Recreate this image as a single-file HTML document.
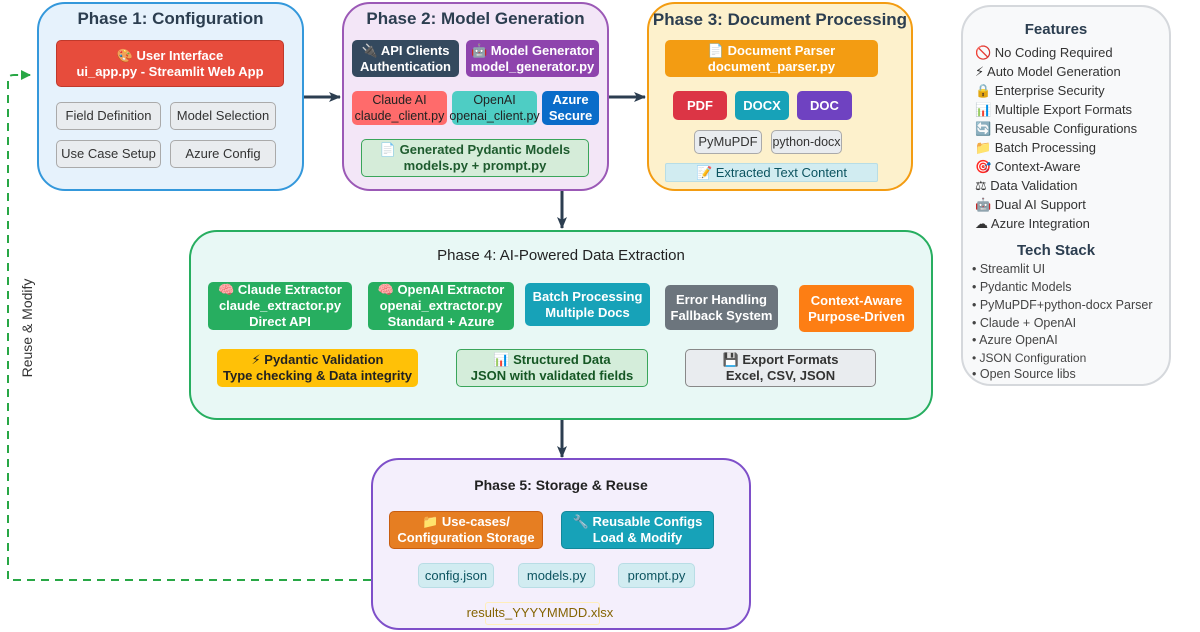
<!DOCTYPE html>
<html><head><meta charset="utf-8"><style>
body{margin:0;width:1200px;height:632px;background:#fff;position:relative;overflow:hidden;font-family:"Liberation Sans","DejaVu Sans",sans-serif;color:#2c3e50}
.a{position:absolute;box-sizing:border-box}
.ph{border-radius:28px;border:2px solid}
.t{position:absolute;left:0;right:0;text-align:center;font-weight:bold}
.b{position:absolute;box-sizing:border-box;border-radius:5px;display:flex;align-items:center;justify-content:center;text-align:center;font-size:13px;line-height:16px;font-weight:bold;color:#fff;white-space:nowrap}
.g{background:#e9ecef;border:1px solid #aaa;color:#333;font-weight:normal;font-size:13px}
.c{background:#d1ecf1;border:1px solid #b8dde5;color:#0c5460;font-weight:normal;font-size:13px}
.f{position:absolute;left:975px;font-size:13px;color:#333}
.s{position:absolute;left:972px;font-size:12.5px;color:#444}
</style></head><body>
<svg class="a" style="left:0;top:0" width="1200" height="632">
<defs><marker id="m" markerUnits="userSpaceOnUse" markerWidth="12" markerHeight="12" refX="11" refY="6" orient="auto"><path d="M0,1 L12,6 L0,11 L3,6 z" fill="#2c3e50"/></marker>
<marker id="g" markerUnits="userSpaceOnUse" markerWidth="10" markerHeight="10" refX="9" refY="5" orient="auto"><path d="M0,0 L10,5 L0,10 z" fill="#28a745"/></marker></defs>
<line x1="304" y1="97" x2="340" y2="97" stroke="#2c3e50" stroke-width="3" marker-end="url(#m)"/>
<line x1="609" y1="97" x2="645" y2="97" stroke="#2c3e50" stroke-width="3" marker-end="url(#m)"/>
<line x1="562" y1="191" x2="562" y2="228" stroke="#2c3e50" stroke-width="3" marker-end="url(#m)"/>
<line x1="562" y1="420" x2="562" y2="457" stroke="#2c3e50" stroke-width="3" marker-end="url(#m)"/>
<path d="M371,580 L8,580 L8,80 Q8,75 14,75 L30,75" fill="none" stroke="#28a745" stroke-width="2" stroke-dasharray="8,6" marker-end="url(#g)"/>
<text x="32" y="328" transform="rotate(-90 32 328)" text-anchor="middle" font-family="Liberation Sans" font-size="14" fill="#333">Reuse &amp; Modify</text>
</svg>

<div class="a ph" style="left:37px;top:2px;width:267px;height:189px;background:#e6f2fc;border-color:#3498db"><div class="t" style="top:5px;font-size:17px">Phase 1: Configuration</div></div>
<div class="b" style="left:56px;top:40px;width:228px;height:47px;background:#e74c3c;border:1px solid #c0392b">🎨 User Interface<br>ui_app.py - Streamlit Web App</div>
<div class="b g" style="left:56px;top:102px;width:105px;height:28px">Field Definition</div>
<div class="b g" style="left:170px;top:102px;width:106px;height:28px">Model Selection</div>
<div class="b g" style="left:56px;top:140px;width:105px;height:28px">Use Case Setup</div>
<div class="b g" style="left:170px;top:140px;width:106px;height:28px">Azure Config</div>

<div class="a ph" style="left:342px;top:2px;width:267px;height:189px;background:#f3e6f7;border-color:#9b59b6"><div class="t" style="top:5px;font-size:17px">Phase 2: Model Generation</div></div>
<div class="b" style="left:352px;top:40px;width:107px;height:37px;background:#34495e">🔌 API Clients<br>Authentication</div>
<div class="b" style="left:466px;top:40px;width:133px;height:37px;background:#8e44ad">🤖 Model Generator<br>model_generator.py</div>
<div class="b" style="left:352px;top:91px;width:95px;height:34px;background:#ff6b6b;color:#222;font-weight:normal;font-size:12.5px">Claude AI<br>claude_client.py</div>
<div class="b" style="left:452px;top:91px;width:85px;height:34px;background:#4ecdc4;color:#222;font-weight:normal;font-size:12.5px">OpenAI<br>openai_client.py</div>
<div class="b" style="left:542px;top:91px;width:57px;height:34px;background:#0a6cc9">Azure<br>Secure</div>
<div class="b" style="left:361px;top:139px;width:228px;height:38px;background:#d5ecd9;border:1px solid #3aa55a;color:#1e5b2e">📄 Generated Pydantic Models<br>models.py + prompt.py</div>

<div class="a ph" style="left:647px;top:2px;width:266px;height:189px;background:#fdf1cc;border-color:#f39c12"><div class="t" style="top:6px;font-size:17px;white-space:nowrap">Phase 3: Document Processing</div></div>
<div class="b" style="left:665px;top:40px;width:213px;height:37px;background:#f39c12">📄 Document Parser<br>document_parser.py</div>
<div class="b" style="left:673px;top:91px;width:54px;height:29px;background:#dc3545">PDF</div>
<div class="b" style="left:735px;top:91px;width:54px;height:29px;background:#17a2b8">DOCX</div>
<div class="b" style="left:797px;top:91px;width:55px;height:29px;background:#6f42c1">DOC</div>
<div class="b g" style="left:694px;top:130px;width:68px;height:24px">PyMuPDF</div>
<div class="b g" style="left:771px;top:130px;width:71px;height:24px;font-size:12.5px">python-docx</div>
<div class="b c" style="left:665px;top:163px;width:213px;height:19px;border-radius:2px">📝 Extracted Text Content</div>

<div class="a" style="left:961px;top:5px;width:210px;height:381px;background:#f8f9fa;border:2px solid #d5d8dc;border-radius:30px"></div>
<div class="a" style="left:961px;top:21px;width:190px;text-align:center;font-weight:bold;font-size:15px">Features</div>
<div class="f" style="top:45px">🚫 No Coding Required</div>
<div class="f" style="top:64px">⚡ Auto Model Generation</div>
<div class="f" style="top:83px">🔒 Enterprise Security</div>
<div class="f" style="top:102px">📊 Multiple Export Formats</div>
<div class="f" style="top:121px">🔄 Reusable Configurations</div>
<div class="f" style="top:140px">📁 Batch Processing</div>
<div class="f" style="top:159px">🎯 Context-Aware</div>
<div class="f" style="top:178px">⚖ Data Validation</div>
<div class="f" style="top:197px">🤖 Dual AI Support</div>
<div class="f" style="top:216px">☁ Azure Integration</div>
<div class="a" style="left:961px;top:242px;width:190px;text-align:center;font-weight:bold;font-size:15px">Tech Stack</div>
<div class="s" style="top:262px">• Streamlit UI</div>
<div class="s" style="top:280px">• Pydantic Models</div>
<div class="s" style="top:298px">• PyMuPDF+python-docx Parser</div>
<div class="s" style="top:316px">• Claude + OpenAI</div>
<div class="s" style="top:333px">• Azure OpenAI</div>
<div class="s" style="top:351px;font-size:12px">• JSON Configuration</div>
<div class="s" style="top:367px">• Open Source libs</div>

<div class="a ph" style="left:189px;top:230px;width:744px;height:190px;background:#e8f8f5;border-color:#27ae60"><div class="t" style="top:15px;font-size:15px;font-weight:normal;color:#222">Phase 4: AI-Powered Data Extraction</div></div>
<div class="b" style="left:208px;top:282px;width:144px;height:48px;background:#27ae60">🧠 Claude Extractor<br>claude_extractor.py<br>Direct API</div>
<div class="b" style="left:368px;top:282px;width:146px;height:48px;background:#27ae60">🧠 OpenAI Extractor<br>openai_extractor.py<br>Standard + Azure</div>
<div class="b" style="left:525px;top:283px;width:125px;height:43px;background:#17a2b8">Batch Processing<br>Multiple Docs</div>
<div class="b" style="left:665px;top:285px;width:113px;height:45px;background:#6c757d">Error Handling<br>Fallback System</div>
<div class="b" style="left:799px;top:285px;width:115px;height:47px;background:#fd7e14">Context-Aware<br>Purpose-Driven</div>
<div class="b" style="left:217px;top:349px;width:201px;height:38px;background:#ffc107;color:#222">⚡ Pydantic Validation<br>Type checking &amp; Data integrity</div>
<div class="b" style="left:456px;top:349px;width:192px;height:38px;background:#d4edda;border:1px solid #3aa55a;color:#155724">📊 Structured Data<br>JSON with validated fields</div>
<div class="b" style="left:685px;top:349px;width:191px;height:38px;background:#e9ecef;border:1px solid #888;color:#333">💾 Export Formats<br>Excel, CSV, JSON</div>

<div class="a ph" style="left:371px;top:458px;width:380px;height:172px;background:#f4effc;border-color:#7e4fc9"><div class="t" style="top:17px;font-size:14px;color:#222">Phase 5: Storage &amp; Reuse</div></div>
<div class="b" style="left:389px;top:511px;width:154px;height:38px;background:#e67e22;border:1px solid #c85e10">📁 Use-cases/<br>Configuration Storage</div>
<div class="b" style="left:561px;top:511px;width:153px;height:38px;background:#17a2b8;border:1px solid #12889a">🔧 Reusable Configs<br>Load &amp; Modify</div>
<div class="b c" style="left:418px;top:563px;width:76px;height:25px">config.json</div>
<div class="b c" style="left:518px;top:563px;width:77px;height:25px">models.py</div>
<div class="b c" style="left:618px;top:563px;width:77px;height:25px">prompt.py</div>
<div class="a" style="left:485px;top:602px;width:115px;height:23px;border:1px solid #ffeeba;border-radius:3px"></div>
<div class="a" style="left:440px;top:605px;width:200px;text-align:center;font-size:13px;color:#856404">results_YYYYMMDD.xlsx</div>
</body></html>
